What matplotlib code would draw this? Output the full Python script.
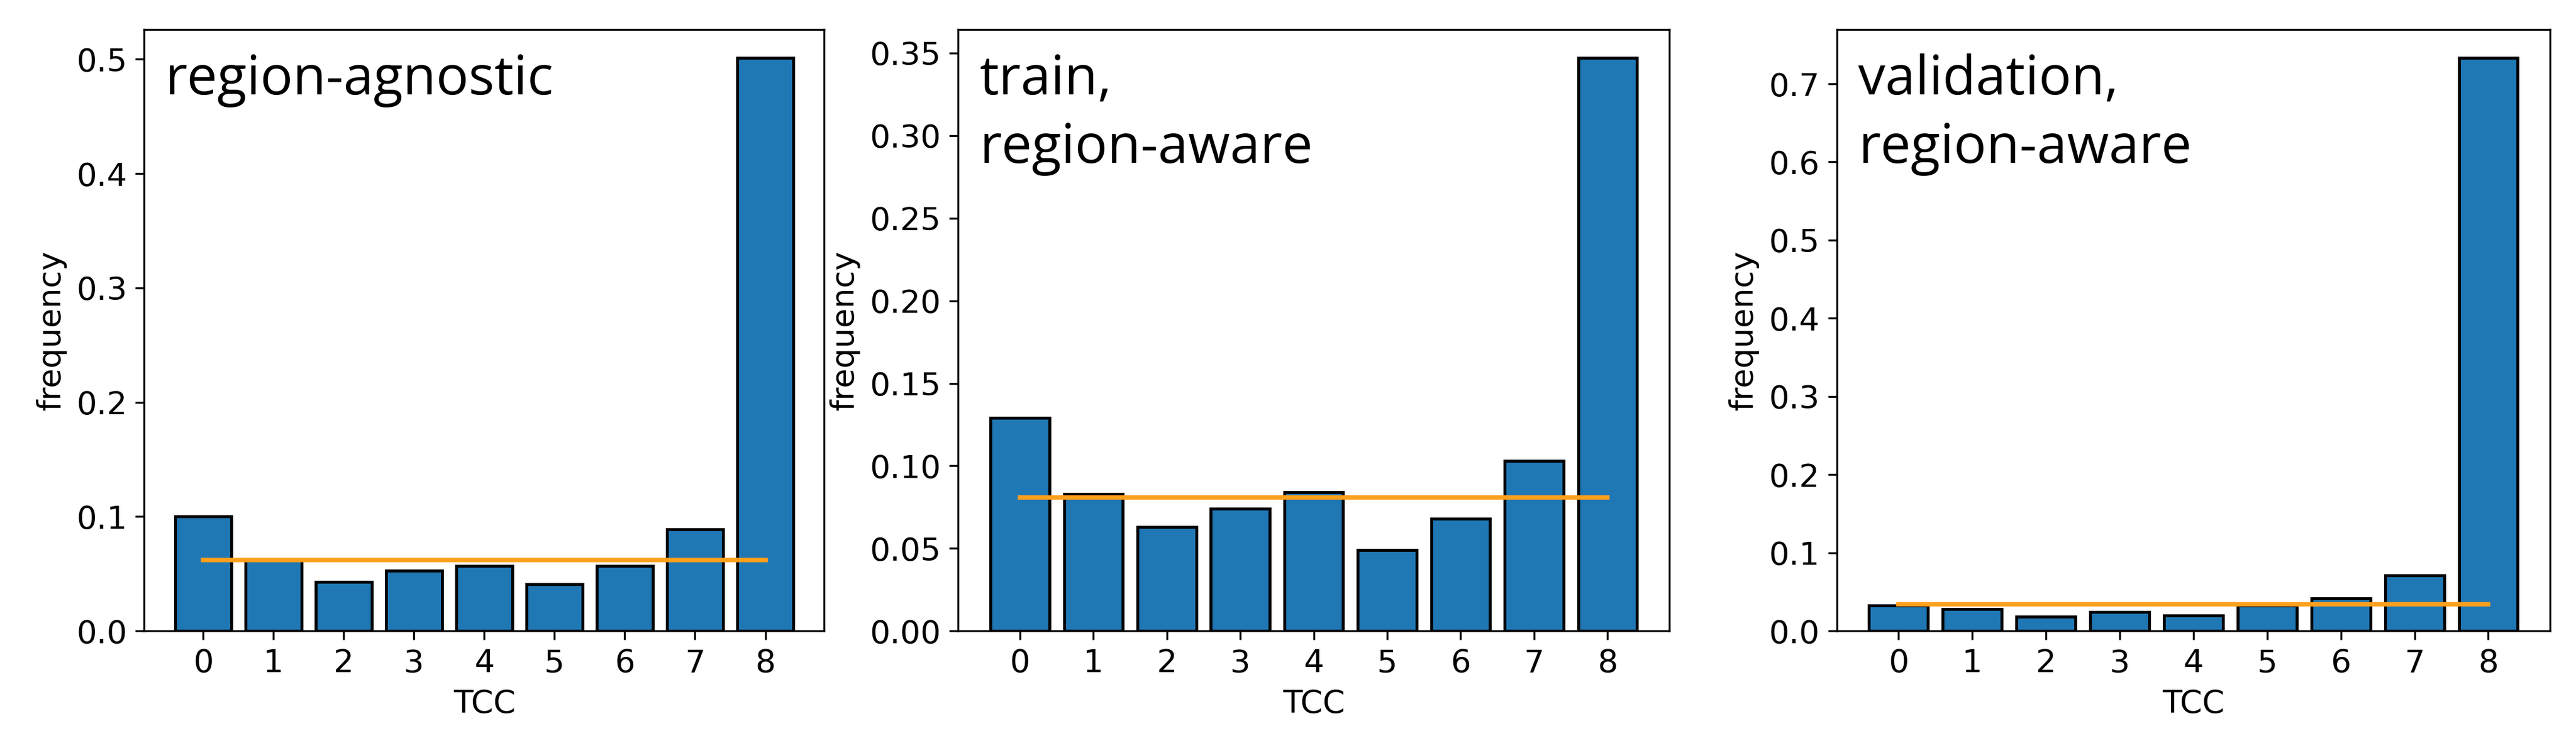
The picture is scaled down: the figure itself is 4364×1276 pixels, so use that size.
import matplotlib
matplotlib.use("Agg")
import matplotlib.pyplot as plt
import numpy as np

tcc = list(range(9))
agnostic = [0.100, 0.062, 0.043, 0.053, 0.057, 0.041, 0.057, 0.089, 0.501]
train_aware = [0.129, 0.083, 0.063, 0.074, 0.084, 0.049, 0.068, 0.103, 0.347]
val_aware = [0.033, 0.028, 0.018, 0.024, 0.020, 0.033, 0.042, 0.071, 0.733]
lines = [0.062, 0.081, 0.034]
titles = ["region-agnostic", "train,\nregion-aware", "validation,\nregion-aware"]

plt.rcParams["font.size"] = 13
fig = plt.figure(figsize=(4364/300, 1276/300), dpi=300)
boxes = [(0.056, 0.162, 0.264, 0.799), (0.372, 0.162, 0.276, 0.799), (0.713, 0.162, 0.277, 0.799)]
for box, data, ln, t in zip(boxes, [agnostic, train_aware, val_aware], lines, titles):
    ax = fig.add_axes(box)
    ax.bar(tcc, data, color="#1f77b4", edgecolor="black", linewidth=1.2)
    ax.plot([0, 8], [ln, ln], color="#ffa01c", linewidth=1.8)
    ax.set_xticks(tcc)
    ax.set_xlabel("TCC")
    ax.set_ylabel("frequency")
    ax.text(0.03, 0.96, t, transform=ax.transAxes, va="top", ha="left",
            fontsize=22, family="Open Sans", linespacing=1.35)
fig.savefig("out.png", dpi=300)
